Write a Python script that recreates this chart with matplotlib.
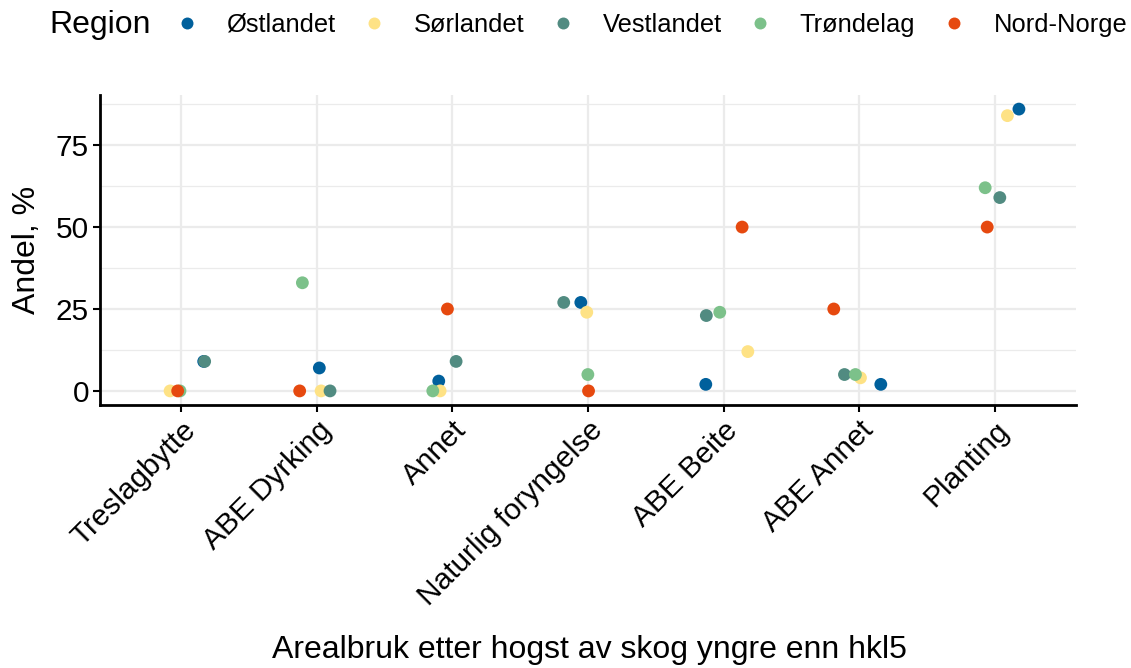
import numpy as np
import matplotlib
matplotlib.use('Agg')
import matplotlib.pyplot as plt
from matplotlib.lines import Line2D

plt.rcParams['font.family'] = ['Liberation Sans', 'DejaVu Sans']

categories = ['Treslagbytte', 'ABE Dyrking', 'Annet', 'Naturlig foryngelse',
              'ABE Beite', 'ABE Annet', 'Planting']
regions = ['Østlandet', 'Sørlandet', 'Vestlandet', 'Trøndelag', 'Nord-Norge']
colors = ['#00609C', '#FEE285', '#518B81', '#7CC18A', '#E6490F']

# Andel, % per region and category
ostlandet = [9, 7, 3, 27, 2, 2, 86]
sorlandet = [0, 0, 0, 24, 12, 4, 84]
vestlandet = [9, 0, 9, 27, 23, 5, 59]
trondelag = [0, 33, 0, 5, 24, 5, 62]
nordnorge = [0, 0, 25, 0, 50, 25, 50]
values = [ostlandet, sorlandet, vestlandet, trondelag, nordnorge]

# horizontal jitter
jit_ostlandet = [0.165, 0.018, -0.101, -0.053, -0.131, 0.160, 0.179]
jit_sorlandet = [-0.083, 0.031, -0.091, -0.009, 0.179, 0.010, 0.094]
jit_vestlandet = [0.172, 0.097, 0.027, -0.179, -0.127, -0.108, 0.038]
jit_trondelag = [-0.010, -0.107, -0.145, -0.001, -0.028, -0.027, -0.070]
jit_nordnorge = [-0.027, -0.127, -0.037, 0.004, 0.137, -0.187, -0.055]
jitter = [jit_ostlandet, jit_sorlandet, jit_vestlandet, jit_trondelag, jit_nordnorge]

fs = 23
fs_tick = 21.4
fs_leg = 18.4
fig = plt.figure(figsize=(11.31, 6.68), dpi=100)
ax = fig.add_axes([100/1131, 1-405/668, 976/1131, 310/668])

xpos = np.arange(1, len(categories)+1)
for vals, jit, col in zip(values, jitter, colors):
    ax.scatter(xpos + np.array(jit), vals, s=85, color=col, edgecolors='none', zorder=3)

ax.set_xlim(0.4, 7.6)
ax.set_ylim(-4.3, 90.3)
ax.set_xticks(xpos)
ax.set_xticklabels(categories, rotation=45, ha='right', va='top', rotation_mode='anchor')
ax.set_yticks([0, 25, 50, 75])
ax.set_yticks([12.5, 37.5, 62.5, 87.5], minor=True)
ax.grid(True, which='major', color='#EBEBEB', linewidth=1.6, zorder=0)
ax.grid(True, which='minor', axis='y', color='#EBEBEB', linewidth=0.9, zorder=0)
ax.set_axisbelow(True)
ax.tick_params(axis='both', which='major', labelsize=fs_tick, length=5, width=1.5,
               color='black', labelcolor='black', pad=3)
ax.tick_params(axis='y', which='minor', length=0)
for s in ['top', 'right']:
    ax.spines[s].set_visible(False)
for s in ['left', 'bottom']:
    ax.spines[s].set_linewidth(2)
    ax.spines[s].set_color('black')

fig.text(27/1131, 1-250/668, 'Andel, %', fontsize=fs, rotation=90,
         ha='center', va='center')
fig.text(589/1131, 1-650/668, 'Arealbruk etter hogst av skog yngre enn hkl5',
         fontsize=fs, ha='center', va='center')

# legend on top, title on the left
fig.text(49/1131, 1-25/668, 'Region', fontsize=fs, ha='left', va='center')
handles = [Line2D([], [], linestyle='none', marker='o', markersize=8.6,
                  markerfacecolor=c, markeredgecolor='none') for c in colors]
fig.legend(handles, regions, loc='center left', bbox_to_anchor=(174/1131, 1-25/668),
           ncol=5, frameon=False, fontsize=fs_leg, handlelength=1.0,
           handletextpad=1.05, columnspacing=1.01, borderaxespad=0, borderpad=0)

plt.savefig('out.png', dpi=100)
